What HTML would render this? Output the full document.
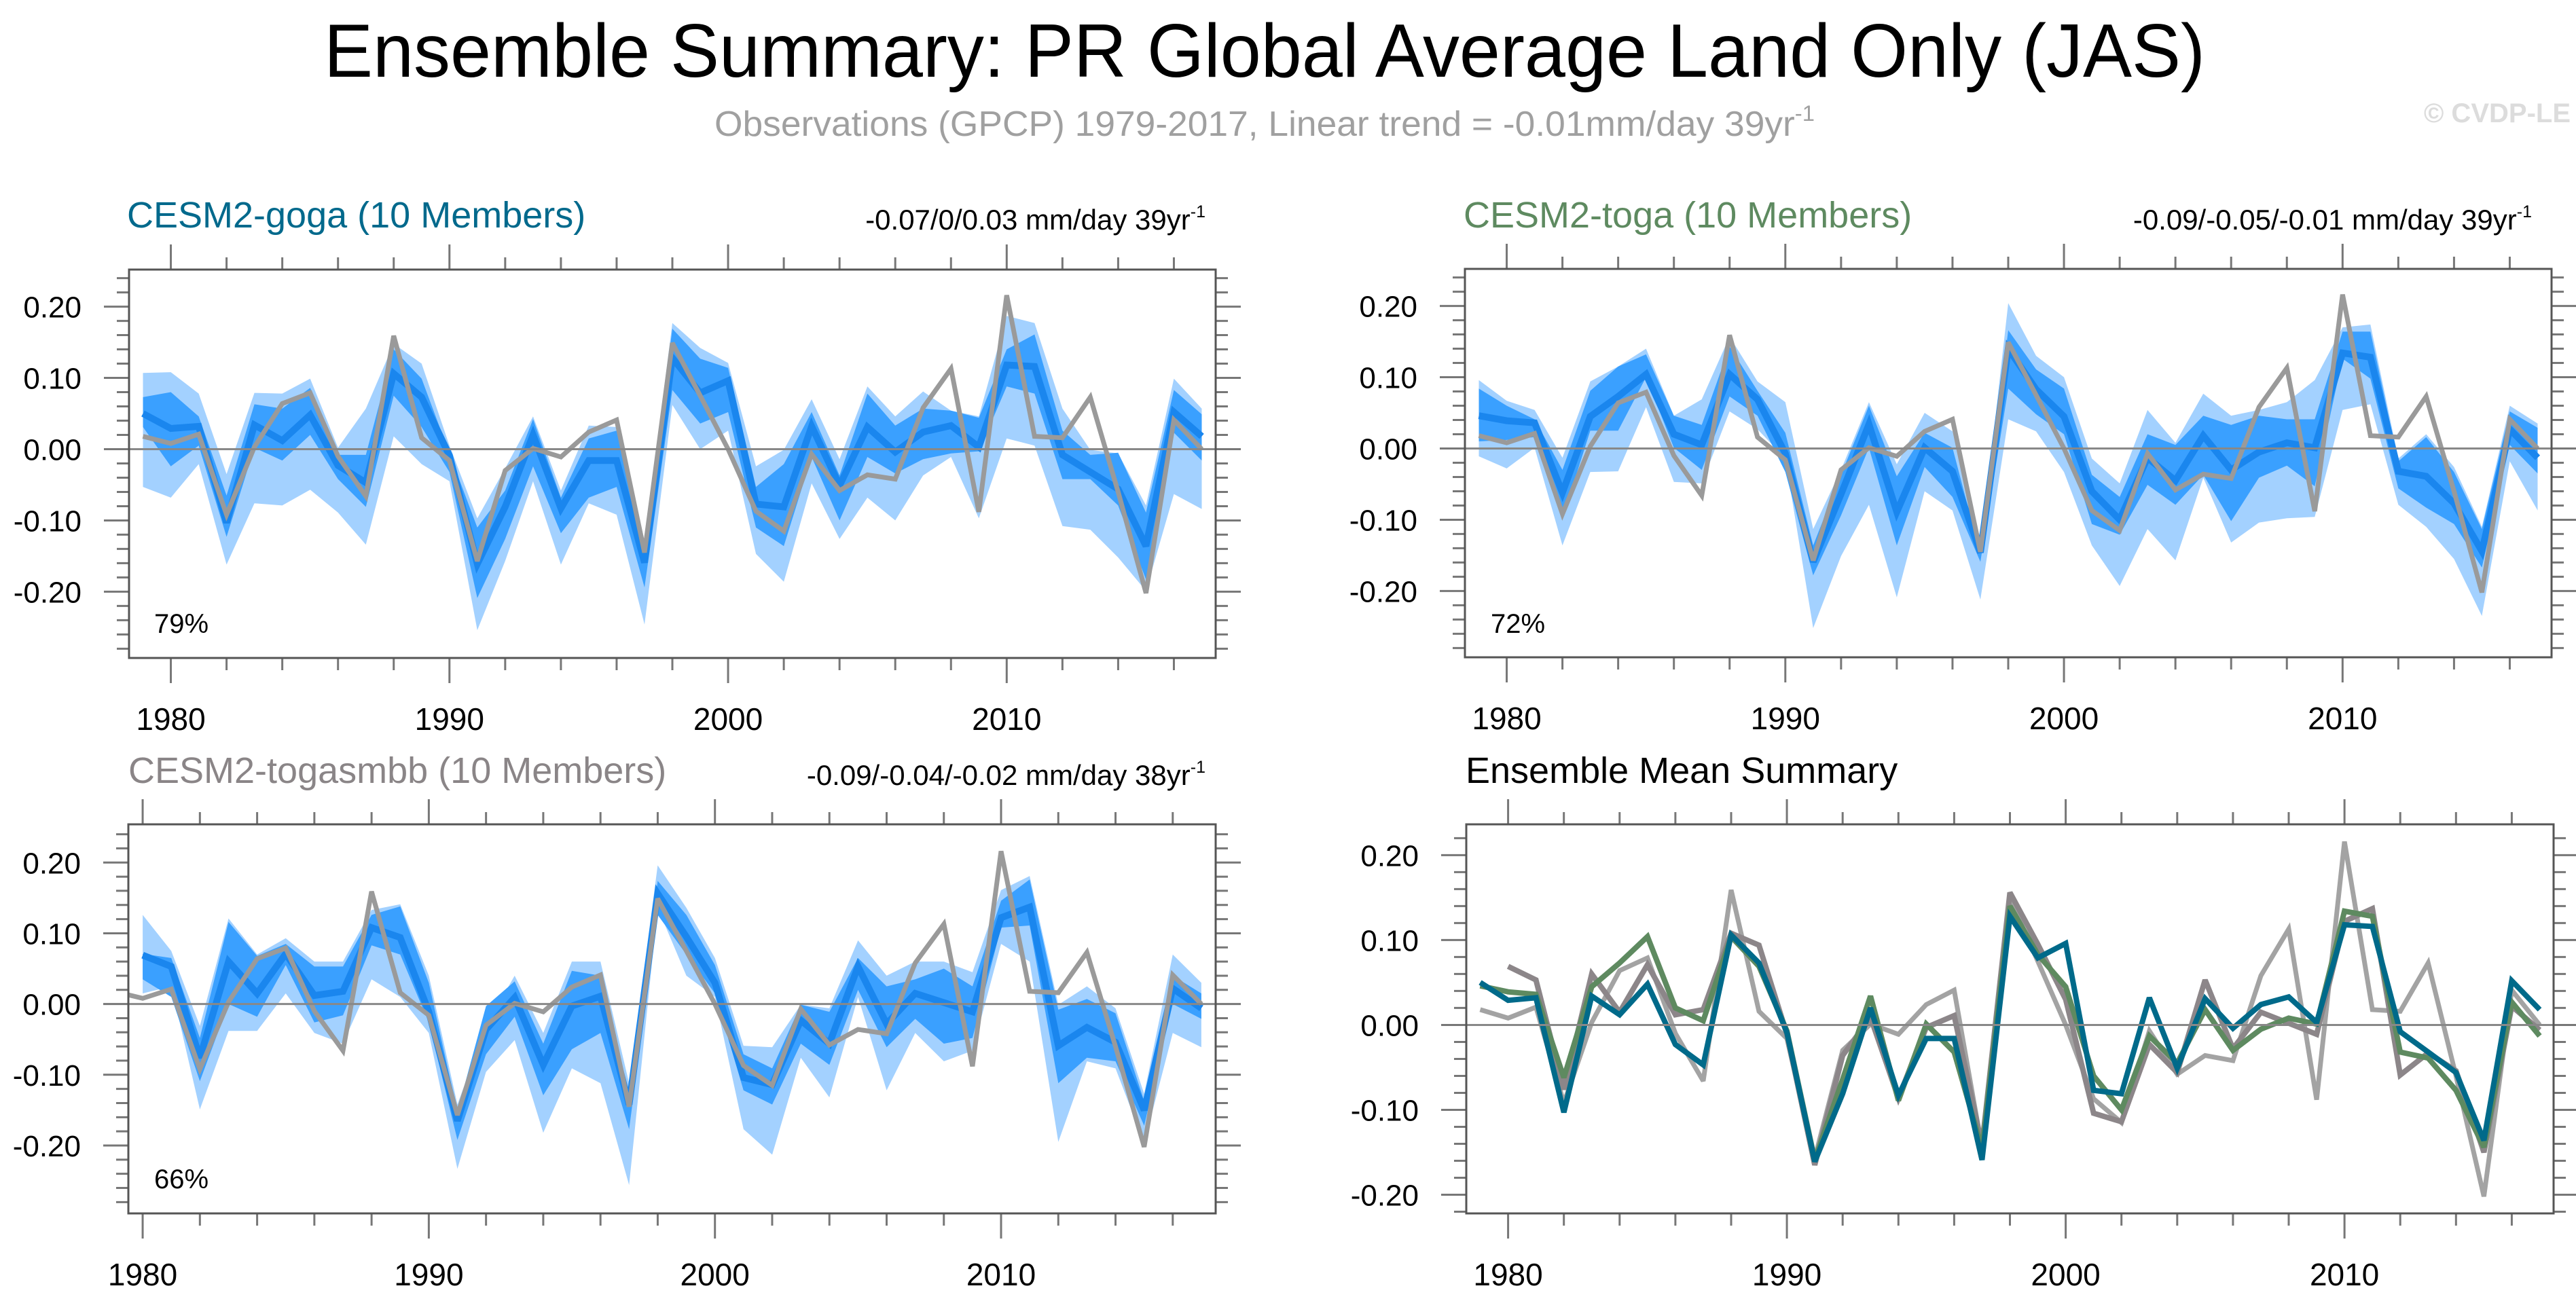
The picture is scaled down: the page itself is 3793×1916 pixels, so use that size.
<!DOCTYPE html>
<html><head><meta charset="utf-8">
<style>
html,body{margin:0;padding:0;background:#fff;}
svg{display:block;font-family:"Liberation Sans",sans-serif;}
</style></head>
<body>
<svg id="chart" width="3793" height="1916" viewBox="0 0 3793 1916" xmlns="http://www.w3.org/2000/svg">
<rect x="0" y="0" width="3793" height="1916" fill="#fff"/>
<text x="477" y="113" font-size="111" textLength="2770" lengthAdjust="spacingAndGlyphs" fill="#000">Ensemble Summary: PR Global Average Land Only (JAS)</text>
<text x="1052" y="200" font-size="52" fill="#a0a0a0" textLength="1620" lengthAdjust="spacingAndGlyphs">Observations (GPCP) 1979-2017, Linear trend = -0.01mm/day 39yr<tspan dy="-22" font-size="32">-1</tspan></text>
<text x="3785" y="180" font-size="40" font-weight="bold" fill="#dcdcdc" text-anchor="end">© CVDP-LE</text>
</svg>
<script>
const years = [];
for (let y = 1979; y <= 2017; y++) years.push(y);
const yearsB = years.slice(1);

const obs = [0.018,0.008,0.021,-0.092,0.003,0.064,0.079,-0.010,-0.066,0.159,0.016,-0.016,-0.157,-0.030,0.001,-0.011,0.024,0.041,-0.145,0.149,0.075,0.000,-0.087,-0.115,-0.007,-0.058,-0.036,-0.042,0.058,0.113,-0.088,0.216,0.018,0.016,0.073,-0.060,-0.202,0.041,0.000];

const gogaMean = [0.050,0.029,0.032,-0.103,0.034,0.012,0.048,-0.023,-0.047,0.106,0.073,-0.009,-0.161,-0.081,0.020,-0.083,-0.016,-0.016,-0.159,0.128,0.079,0.096,-0.077,-0.081,0.032,-0.051,0.031,-0.004,0.024,0.033,0.003,0.118,0.116,-0.008,-0.032,-0.056,-0.136,0.052,0.018];
const gogaLightHi = [0.107,0.108,0.078,-0.035,0.079,0.078,0.099,0.002,0.057,0.148,0.120,0.005,-0.097,-0.027,0.046,-0.058,0.033,0.031,-0.131,0.177,0.142,0.121,-0.024,-0.001,0.070,-0.014,0.088,0.046,0.081,0.054,0.046,0.187,0.177,0.057,-0.001,-0.006,-0.079,0.099,0.057];
const gogaLightLo = [-0.053,-0.068,-0.021,-0.162,-0.076,-0.079,-0.057,-0.089,-0.134,0.018,-0.021,-0.045,-0.254,-0.157,-0.045,-0.162,-0.076,-0.092,-0.246,0.062,0.000,0.026,-0.147,-0.186,-0.048,-0.126,-0.068,-0.100,-0.037,-0.011,-0.097,0.015,0.005,-0.108,-0.113,-0.152,-0.199,-0.063,-0.084];
const gogaDarkHi = [0.073,0.080,0.046,-0.065,0.063,0.057,0.086,-0.008,-0.008,0.140,0.099,-0.006,-0.110,-0.058,0.042,-0.068,0.015,0.026,-0.136,0.169,0.127,0.114,-0.053,-0.021,0.052,-0.037,0.078,0.033,0.057,0.054,0.044,0.140,0.161,0.026,-0.008,-0.005,-0.089,0.083,0.049];
const gogaDarkLo = [0.031,-0.024,0.005,-0.123,0.002,-0.016,0.020,-0.042,-0.081,0.075,0.031,-0.032,-0.209,-0.126,-0.024,-0.118,-0.068,-0.053,-0.194,0.083,0.036,0.052,-0.110,-0.136,-0.011,-0.100,-0.011,-0.034,-0.014,-0.006,-0.003,0.088,0.078,-0.042,-0.042,-0.079,-0.183,0.023,-0.016];

const togaMean = [0.046,0.039,0.036,-0.062,0.045,0.073,0.104,0.020,0.005,0.104,0.069,-0.007,-0.159,-0.064,0.034,-0.089,0.001,-0.032,-0.146,0.140,0.083,0.045,-0.060,-0.100,-0.013,-0.045,0.018,-0.030,-0.005,0.008,0.001,0.134,0.128,-0.032,-0.039,-0.077,-0.144,0.027,-0.013];
const togaLightHi = [0.096,0.067,0.054,-0.013,0.094,0.115,0.140,0.046,0.069,0.157,0.094,0.065,-0.113,-0.030,0.065,-0.022,0.050,0.024,-0.144,0.204,0.130,0.100,-0.014,-0.049,0.054,0.008,0.077,0.046,0.054,0.065,0.096,0.170,0.174,-0.014,0.020,-0.026,-0.110,0.060,0.035];
const togaLightLo = [-0.011,-0.028,0.001,-0.136,-0.033,-0.032,0.058,-0.047,-0.049,0.052,0.027,-0.014,-0.252,-0.151,-0.079,-0.209,-0.060,-0.087,-0.212,0.041,0.024,-0.033,-0.136,-0.193,-0.113,-0.157,-0.041,-0.132,-0.104,-0.098,-0.096,0.054,0.062,-0.079,-0.110,-0.155,-0.235,-0.018,-0.087];
const togaDarkHi = [0.084,0.060,0.041,-0.030,0.081,0.115,0.132,0.046,0.033,0.143,0.081,0.022,-0.136,-0.037,0.060,-0.039,0.022,0.001,-0.148,0.166,0.111,0.084,-0.037,-0.068,0.020,0.005,0.046,0.033,0.046,0.041,0.041,0.164,0.164,-0.018,0.016,-0.033,-0.113,0.052,0.029];
const togaDarkLo = [0.010,0.012,0.016,-0.098,0.025,0.025,0.100,0.001,-0.030,0.073,0.046,-0.033,-0.178,-0.094,0.001,-0.136,-0.026,-0.068,-0.159,0.084,0.048,0.020,-0.106,-0.121,-0.051,-0.079,-0.037,-0.102,-0.041,-0.024,-0.053,0.126,0.098,-0.056,-0.083,-0.106,-0.167,0.005,-0.035];

const smbbMean = [0.069,0.053,-0.076,0.060,0.015,0.071,0.012,0.018,0.108,0.094,-0.011,-0.165,-0.036,0.009,-0.086,-0.003,0.011,-0.142,0.156,0.095,0.030,-0.104,-0.114,-0.023,-0.056,0.053,-0.028,0.015,0.002,-0.011,0.122,0.137,-0.059,-0.033,-0.054,-0.150,0.022,-0.006];
const smbbLightHi = [0.126,0.075,-0.031,0.121,0.070,0.093,0.060,0.060,0.133,0.141,0.040,-0.142,-0.031,0.040,-0.041,0.060,0.060,-0.112,0.196,0.136,0.065,-0.059,-0.061,-0.001,-0.006,0.090,0.040,0.060,0.060,0.045,0.161,0.181,-0.001,0.025,-0.006,-0.127,0.070,0.030];
const smbbLightLo = [0.015,0.025,-0.149,-0.038,-0.038,0.015,-0.041,-0.056,0.035,0.010,-0.041,-0.233,-0.096,-0.051,-0.182,-0.091,-0.112,-0.256,0.136,0.040,0.010,-0.177,-0.213,-0.076,-0.132,0.010,-0.122,-0.041,-0.081,-0.066,0.085,0.060,-0.195,-0.081,-0.091,-0.197,-0.041,-0.061];
const smbbDarkHi = [0.071,0.065,-0.048,0.116,0.068,0.085,0.053,0.053,0.126,0.138,0.030,-0.152,-0.003,0.032,-0.056,0.047,0.040,-0.132,0.174,0.126,0.055,-0.071,-0.091,-0.001,-0.011,0.065,0.025,0.035,0.050,0.025,0.146,0.176,-0.008,0.007,-0.013,-0.137,0.040,0.015];
const smbbDarkLo = [0.035,0.010,-0.109,0.000,-0.018,0.055,-0.026,-0.016,0.083,0.070,-0.026,-0.192,-0.071,-0.018,-0.129,-0.064,-0.041,-0.177,0.126,0.070,0.015,-0.122,-0.142,-0.056,-0.086,0.020,-0.061,-0.021,-0.056,-0.048,0.108,0.111,-0.112,-0.076,-0.081,-0.172,0.000,-0.021];

const yMajor = [-0.2,-0.1,0,0.1,0.2];
const yMajorLabels = ["-0.20","-0.10","0.00","0.10","0.20"];
const xMajor = [1980,1990,2000,2010];
const xMajorLabels = ["1980","1990","2000","2010"];

const NS = "http://www.w3.org/2000/svg";
const svg = document.getElementById('chart');
function mk(tag, attrs, parent) {
  const e = document.createElementNS(NS, tag);
  for (const k in attrs) e.setAttribute(k, attrs[k]);
  (parent || svg).appendChild(e);
  return e;
}
const C_LIGHT = '#a3d1ff', C_DARK = '#3aa0ff', C_MEAN = '#1a86ee', C_OBS = '#9a9a9a';

function makePanel(id, p) {
  const g = mk('g', {});
  
  
  const sx = v => p.x0 + (v - p.xmin) / (p.xmax - p.xmin) * (p.x1 - p.x0);
  const sy = v => p.y1 - (v - p.ymin) / (p.ymax - p.ymin) * (p.y1 - p.y0);
  const clip = mk('clipPath', {id: id + '-clip'}, g);
  mk('rect', {x: p.x0, y: p.y0, width: p.x1 - p.x0, height: p.y1 - p.y0}, clip);
  const tg = mk('g', {stroke: '#777', 'stroke-width': 3}, g);
  
  
  for (let yr = 1980; yr <= p.xmax; yr += 2) {
    const X = sx(yr), L = xMajor.includes(yr) ? 37 : 18;
    mk('line', {x1: X, x2: X, y1: p.y0 - L, y2: p.y0}, tg);
    mk('line', {x1: X, x2: X, y1: p.y1, y2: p.y1 + L}, tg);
  }
  for (let k = -14; k <= 12; k++) {
    const v = k * 0.02;
    if (v < p.ymin || v > p.ymax) continue;
    const Y = sy(v), L = (k % 5 === 0) ? 37 : 18;
    mk('line', {x1: p.x0 - L, x2: p.x0, y1: Y, y2: Y}, tg);
    mk('line', {x1: p.x1, x2: p.x1 + L, y1: Y, y2: Y}, tg);
  }
  yMajor.forEach((v, i) => {
    const t = mk('text', {x: p.x0 - 70, y: sy(v) + 16, 'font-size': 44, 'text-anchor': 'end', fill: '#000'}, g);
    
    
    t.textContent = yMajorLabels[i];
  });
  xMajor.forEach((v, i) => {
    const t = mk('text', {x: sx(v), y: p.y1 + 106, 'font-size': 46, 'text-anchor': 'middle', fill: '#000'}, g);
    
    
    t.textContent = xMajorLabels[i];
  });
  const plot = mk('g', {'clip-path': 'url(#' + id + '-clip)'}, g);
  const band = (xs, hi, lo, fill, name) => {
    let d = '';
    xs.forEach((x, i) => { d += (i ? 'L' : 'M') + sx(x).toFixed(1) + ',' + sy(hi[i]).toFixed(1); });
    for (let i = xs.length - 1; i >= 0; i--) d += 'L' + sx(xs[i]).toFixed(1) + ',' + sy(lo[i]).toFixed(1);
    const e = mk('path', {d: d + 'Z', fill: fill}, plot);
    
    
  };
  const line = (xs, vals, color, w, name) => {
    let d = '';
    xs.forEach((x, i) => { d += (i ? 'L' : 'M') + sx(x).toFixed(1) + ',' + sy(vals[i]).toFixed(1); });
    const e = mk('path', {d: d, fill: 'none', stroke: color, 'stroke-width': w, 'stroke-linejoin': 'miter', 'stroke-miterlimit': 3}, plot);
    
    
  };
  return {g, sx, sy, plot, band, line, p};
}
function finishPanel(P, id) {
  const p = P.p;
  const z = mk('line', {x1: p.x0, x2: p.x1, y1: P.sy(0), y2: P.sy(0), stroke: '#888', 'stroke-width': 3}, P.g);
  
  
  const b = mk('rect', {x: p.x0, y: p.y0, width: p.x1 - p.x0, height: p.y1 - p.y0, fill: 'none', stroke: '#555', 'stroke-width': 3}, P.g);
  
  
}
function title(txt, x, y, color, name, size) {
  const t = mk('text', {x: x, y: y, 'font-size': size || 54, fill: color});
  
  
  t.textContent = txt;
}
function trend(txt, x, y, name) {
  const t = mk('text', {x: x, y: y, 'font-size': 42, fill: '#000', 'text-anchor': 'end'});
  
  
  t.innerHTML = txt + '<tspan dy="-18" font-size="25">-1</tspan>';
}
function pct(txt, x, y, name) {
  const t = mk('text', {x: x, y: y, 'font-size': 40, fill: '#000'});
  
  
  t.textContent = txt;
}

let P = makePanel('goga', {x0:190,x1:1790,y0:397,y1:969,xmin:1978.5,xmax:2017.5,ymin:-0.293,ymax:0.252});
P.band(years, gogaLightHi, gogaLightLo, C_LIGHT, 'goga-spread-band');
P.band(years, gogaDarkHi, gogaDarkLo, C_DARK, 'goga-iqr-band');
P.line(years, gogaMean, C_MEAN, 10, 'goga-ensemble-mean-line');
P.line(years, obs, C_OBS, 7, 'goga-observations-line');
finishPanel(P, 'goga');
title('CESM2-goga (10 Members)', 187, 335, '#00698c', 'goga-panel-title');
trend('-0.07/0/0.03 mm/day 39yr', 1775, 338, 'goga-trend-label');
pct('79%', 227, 932, 'goga-percent-label');

P = makePanel('toga', {x0:2157,x1:3757,y0:396,y1:968,xmin:1978.5,xmax:2017.5,ymin:-0.293,ymax:0.252});
P.band(years, togaLightHi, togaLightLo, C_LIGHT, 'toga-spread-band');
P.band(years, togaDarkHi, togaDarkLo, C_DARK, 'toga-iqr-band');
P.line(years, togaMean, C_MEAN, 10, 'toga-ensemble-mean-line');
P.line(years, obs, C_OBS, 7, 'toga-observations-line');
finishPanel(P, 'toga');
title('CESM2-toga (10 Members)', 2155, 335, '#5e8a60', 'toga-panel-title');
trend('-0.09/-0.05/-0.01 mm/day 39yr', 3728, 338, 'toga-trend-label');
pct('72%', 2195, 932, 'toga-percent-label');

P = makePanel('togasmbb', {x0:189,x1:1790,y0:1214,y1:1787,xmin:1979.5,xmax:2017.5,ymin:-0.296,ymax:0.254});
P.band(yearsB, smbbLightHi, smbbLightLo, C_LIGHT, 'togasmbb-spread-band');
P.band(yearsB, smbbDarkHi, smbbDarkLo, C_DARK, 'togasmbb-iqr-band');
P.line(yearsB, smbbMean, C_MEAN, 10, 'togasmbb-ensemble-mean-line');
P.line(years, obs, C_OBS, 7, 'togasmbb-observations-line');
finishPanel(P, 'togasmbb');
title('CESM2-togasmbb (10 Members)', 189, 1153, '#8a8587', 'togasmbb-panel-title');
trend('-0.09/-0.04/-0.02 mm/day 38yr', 1775, 1156, 'togasmbb-trend-label');
pct('66%', 227, 1750, 'togasmbb-percent-label');

P = makePanel('summary', {x0:2159,x1:3760,y0:1214,y1:1787,xmin:1978.5,xmax:2017.5,ymin:-0.222,ymax:0.2363});
P.line(years, obs, '#a3a3a3', 7, 'summary-observations-line');
P.line(yearsB, smbbMean, '#8c8689', 8, 'summary-togasmbb-mean-line');
P.line(years, togaMean, '#5e8a60', 8, 'summary-toga-mean-line');
P.line(years, gogaMean, '#006a8a', 8, 'summary-goga-mean-line');
finishPanel(P, 'summary');
title('Ensemble Mean Summary', 2158, 1153, '#000', 'summary-panel-title');
</script>
</body></html>
